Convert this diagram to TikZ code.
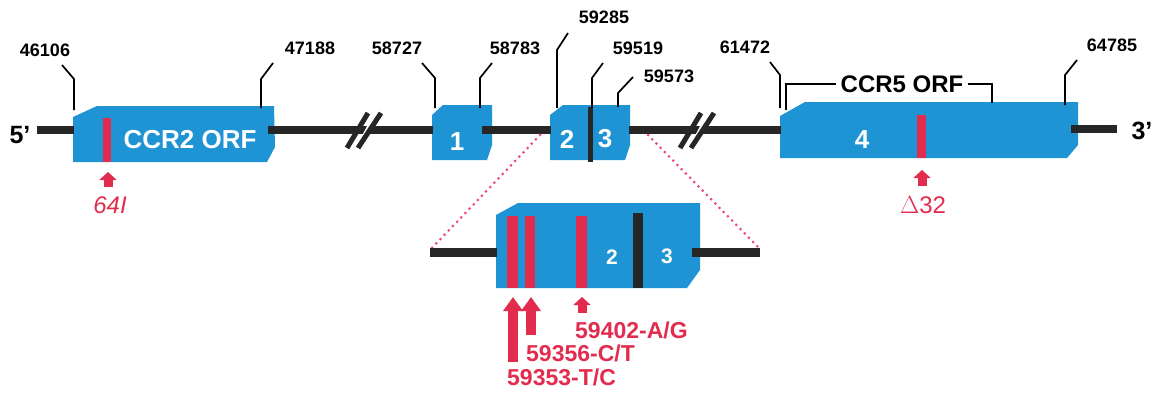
\documentclass[tikz,border=0pt]{standalone}
\usepackage{fontspec}
\setmainfont{Liberation Sans}
\usetikzlibrary{arrows.meta, positioning}

\definecolor{exonblue}{RGB}{30,148,212}
\definecolor{mutred}{RGB}{226,44,78}
\definecolor{zoompink}{RGB}{236,70,132}
\definecolor{dnagray}{RGB}{38,38,38}

\begin{document}
\begin{tikzpicture}[
    x=1pt, y=-1pt,
    every node/.style={inner sep=0pt},
    num/.style={font=\bfseries\fontsize{18}{20}\selectfont},
    lead/.style={draw=black, line width=1.7pt},
    exon/.style={fill=exonblue},
    exonlab/.style={text=white, font=\bfseries\fontsize{26}{28}\selectfont},
    dna/.style={draw=dnagray, line width=8pt},
    mut/.style={fill=mutred},
    mutarrow/.style={draw=mutred, line width=9pt, -{Triangle[length=8pt, width=17pt]}},
    bigarrow/.style={draw=mutred, line width=10pt, -{Triangle[length=14pt, width=19pt]}},
    mutlab/.style={text=mutred, font=\bfseries\fontsize{23}{25}\selectfont},
    zoomline/.style={draw=zoompink, line width=3pt, line cap=round, dash pattern=on 0pt off 6pt}
]
\useasboundingbox (0,0) rectangle (1157,394);

% Exons on the gene
\fill[exon] (73,117) -- (97,106) -- (274,106) -- (275,147) -- (267,162) -- (73,162) -- cycle;
\fill[exon] (432,115) -- (443,105) -- (492,105) -- (492,145) -- (487,160) -- (432,160) -- cycle;
\fill[exon] (550,115) -- (563,105) -- (630,105) -- (630,145) -- (625,160) -- (550,160) -- cycle;
\fill[exon] (780,116) -- (805,102) -- (1078,102) -- (1078,145) -- (1067,158) -- (780,158) -- cycle;

% DNA line
\draw[dna] (37,130) -- (74,130);
\draw[dna] (268,130) -- (433,130);
\draw[dna] (482,130) -- (551,130);
\draw[dna] (629,130) -- (781,130);
\draw[dna] (1071,129) -- (1117,129);

% Breaks
\foreach \bx in {364,697} {
  \draw[white, line width=4pt] (\bx-6,148) -- (\bx+12,113);
  \draw[dnagray, line width=5pt] (\bx-17,148) -- (\bx+4,113);
  \draw[dnagray, line width=5pt] (\bx-6,148) -- (\bx+17,113);
}

% Exon boundary between 2 and 3, mutations
\fill[dnagray] (588,107) rectangle (593,162);
\fill[mut] (103,118) rectangle (111,162);
\fill[mut] (917,115) rectangle (926,158);

% Ends
\node[font=\bfseries\fontsize{25}{27}\selectfont] (five) at (20,135) {5’};
\node[font=\bfseries\fontsize{25}{27}\selectfont] (three) at (1142,131) {3’};

% Exon labels
\node[exonlab] (ccr2) at (190,140) {CCR2 ORF};
\node[exonlab] (ex1) at (457,142) {1};
\node[exonlab] (ex2) at (567,139) {2};
\node[exonlab] (ex3) at (605,139) {3};
\node[exonlab] (ex4) at (862,140) {4};

% Positions
\node[num] (p46106) at (45,50) {46106};
\node[num] (p47188) at (310,48) {47188};
\node[num] (p58727) at (397,48) {58727};
\node[num] (p58783) at (515,48) {58783};
\node[num] (p59285) at (604,17) {59285};
\node[num] (p59519) at (638,48) {59519};
\node[num] (p59573) at (669,76) {59573};
\node[num] (p61472) at (745,47) {61472};
\node[num] (p64785) at (1112,45) {64785};

\draw[lead] (62,65) -- (74,79) -- (74,110);
\draw[lead] (273,63) -- (261,79) -- (261,108);
\draw[lead] (422,63) -- (435,78) -- (435,108);
\draw[lead] (492,63) -- (480,78) -- (480,108);
\draw[lead] (568,33) -- (557,50) -- (557,108);
\draw[lead] (603,63) -- (592,78) -- (592,108);
\draw[lead] (633,77) -- (618,93) -- (618,107);
\draw[lead] (770,62) -- (780,75) -- (780,108);
\draw[lead] (1077,60) -- (1065,75) -- (1065,105);

% CCR5 ORF bracket
\node[font=\bfseries\fontsize{24}{26}\selectfont] (ccr5) at (902,84) {CCR5 ORF};
\draw[lead] (786,110) -- (786,84) -- (ccr5.west -| 836,0);
\draw[lead] (ccr5.east) ++(4,0) -- (992,84) -- (992,103);

% Mutation arrows on the gene
\draw[mutarrow] (108,187) -- (108,172);
\node[text=mutred, font=\itshape\fontsize{24}{26}\selectfont] (m64) at (110,205) {64I};
\draw[mutarrow] (922,186) -- (922,170);
\node[text=mutred, font=\fontsize{24}{26}\selectfont] (md32) at (923,205) {$\Delta$32};

% Zoom onto exons 2 and 3
\draw[zoomline] (540,135) -- (430,250);
\draw[zoomline] (648,135) -- (760,249);
\fill[exon] (496,215) -- (518,203) -- (700,203) -- (700,270) -- (687,288) -- (496,288) -- cycle;
\draw[dna, line width=9pt] (430,252) -- (497,252);
\draw[dna, line width=9pt] (692,252) -- (760,252);
\fill[mut] (507,216) rectangle (518,288);
\fill[mut] (525,216) rectangle (535,288);
\fill[mut] (576,216) rectangle (587,288);
\fill[dnagray] (633,213) rectangle (643,288);
\node[exonlab, font=\bfseries\fontsize{21}{23}\selectfont] (z2) at (612,257) {2};
\node[exonlab, font=\bfseries\fontsize{21}{23}\selectfont] (z3) at (667,256) {3};

\draw[bigarrow] (513,362) -- (513,297);
\draw[bigarrow] (531,335) -- (531,297);
\draw[mutarrow] (582,313) -- (582,297);
\node[mutlab, anchor=west] (s402) at (575,330) {59402-A/G};
\node[mutlab, anchor=west] (s356) at (526,353) {59356-C/T};
\node[mutlab, anchor=west] (s353) at (507,377) {59353-T/C};

\end{tikzpicture}
\end{document}
